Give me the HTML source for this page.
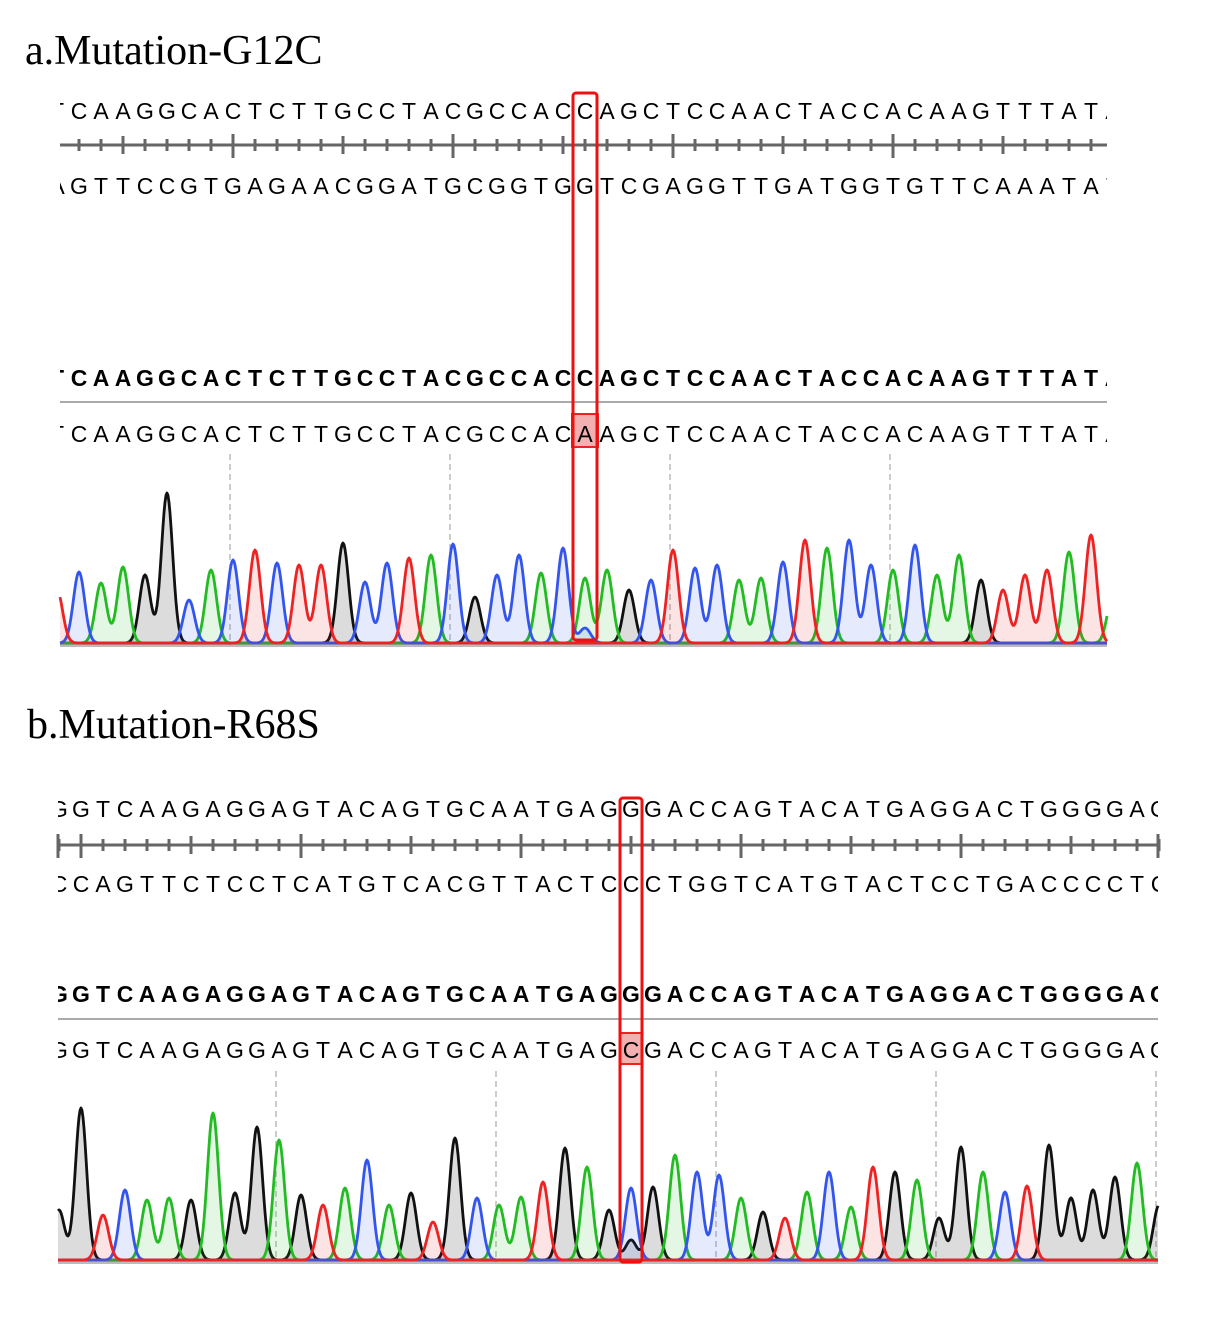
<!DOCTYPE html>
<html><head><meta charset="utf-8"><style>
html,body{margin:0;padding:0;background:#fff;}
svg{display:block;}
</style></head><body>
<svg id="s" width="1207" height="1322" xmlns="http://www.w3.org/2000/svg">
<text x="25" y="64" font-family="Liberation Serif, serif" font-size="42">a.Mutation-G12C</text>
<text x="27" y="738" font-family="Liberation Serif, serif" font-size="42">b.Mutation-R68S</text>
</svg>
<script>
const NS="http://www.w3.org/2000/svg";const S=document.getElementById('s');
function el(t,a,txt){const e=document.createElementNS(NS,t);for(const k in a)e.setAttribute(k,a[k]);if(txt!==undefined)e.textContent=txt;S.appendChild(e);return e;}
const COL={A:'#22bb22',C:'#3355ee',G:'#111111',T:'#ee2222'};
const FILL={A:'rgba(34,187,34,0.12)',C:'rgba(51,85,238,0.12)',G:'rgba(60,60,60,0.18)',T:'rgba(238,34,34,0.12)'};
function panel(P){
  const {x0,xmin,xmax,top,comp,called,yTop,yComp,yRuler,yBold,ySep,yCall,base,heights,dash,box,hl}=P;
  const cid='c'+yTop;
  const cp=el('clipPath',{id:cid});const r=document.createElementNS(NS,'rect');
  r.setAttribute('x',xmin);r.setAttribute('y',0);r.setAttribute('width',xmax-xmin);r.setAttribute('height',1322);cp.appendChild(r);
  const h=document.createElementNS(NS,'rect');for(const k in hl)h.setAttribute(k,hl[k]);
  h.setAttribute('fill','#f3b0b0');h.setAttribute('stroke','#ee2222');h.setAttribute('stroke-width','2');S.appendChild(h);
  const g=el('g',{'clip-path':'url(#'+cid+')'});
  function txt(s,y,bold){for(let i=0;i<s.length;i++){const t=document.createElementNS(NS,'text');
    t.setAttribute('x',x0+22*i);t.setAttribute('y',y);t.setAttribute('text-anchor','middle');
    t.setAttribute('font-family','Liberation Sans, sans-serif');t.setAttribute('font-size','23');
    if(bold)t.setAttribute('font-weight','bold');t.textContent=s[i];g.appendChild(t);}}
  txt(top,yTop);txt(comp,yComp);txt(top,yBold,true);txt(called,yCall);
  el('line',{x1:xmin,x2:xmax,y1:yRuler,y2:yRuler,stroke:'#666','stroke-width':3});
  for(let i=0;i<top.length;i++){const x=x0+22*i;if(x<xmin-1||x>xmax+1)continue;
    const idx=i+P.off;let a=6,b=6;if(idx%10==0){a=11;b=13}else if(idx%5==0){a=9;b=9}
    el('line',{x1:x,x2:x,y1:yRuler-a,y2:yRuler+b,stroke:'#666','stroke-width':3});}
  if(P.endTicks){P.endTicks.forEach(x=>el('line',{x1:x,x2:x,y1:yRuler-11,y2:yRuler+13,stroke:'#666','stroke-width':3}));}
  el('line',{x1:xmin,x2:xmax,y1:ySep,y2:ySep,stroke:'#aaa','stroke-width':2});
  dash.forEach(x=>el('line',{x1:x,x2:x,y1:ySep+52,y2:base,stroke:'#bbb','stroke-width':1.5,'stroke-dasharray':'6,4'}));
  const tr={A:[],C:[],G:[],T:[]};
  for(let i=0;i<heights.length;i++){tr[heights[i][0]].push([x0+22*i,heights[i][1]]);}
  if(P.extra)P.extra.forEach(e=>tr[e[0]].push([x0+22*e[1],e[2]]));
  for(const c of ['G','A','C','T']){const pts=[];
    for(let x=xmin;x<=xmax;x+=1){let y=0;for(const p of tr[c]){y+=p[1]*Math.exp(-((x-p[0])**2)/(2*5.6*5.6));}
      pts.push([x,base-2-y]);}
    const d='M'+xmin+','+base+pts.map(p=>'L'+p[0]+','+p[1].toFixed(1)).join('');
    el('path',{d:d+'L'+xmax+','+base+'Z',fill:FILL[c],stroke:'none'});
    el('path',{d:'M'+pts.map(p=>p[0]+','+p[1].toFixed(1)).join('L'),fill:'none',stroke:COL[c],'stroke-width':2.8,'stroke-linejoin':'round'});}
  el('line',{x1:xmin,x2:xmax,y1:base+1,y2:base+1,stroke:'#bbb','stroke-width':2});
  el('rect',{x:box[0],y:box[1],width:box[2],height:box[3],rx:3,fill:'none',stroke:'#ee1111','stroke-width':3});
}
function H(seq,tops,base){return seq.split('').map((c,i)=>[c,base-2-tops[i]]);}
const topA='TCAAGGCACTCTTGCCTACGCCACCAGCTCCAACTACCACAAGTTTATA';
const compA='AGTTCCGTGAGAACGGATGCGGTGGTCGAGGTTGATGGTGTTCAAATAT';
const callA='TCAAGGCACTCTTGCCTACGCCACAAGCTCCAACTACCACAAGTTTATA';
const tA=[590,572,583,567,575,493,600,570,560,550,563,565,565,543,582,563,558,555,544,597,575,555,573,548,578,570,590,580,550,568,565,580,578,562,540,548,540,565,570,545,575,555,580,590,575,570,552,535,595];
panel({x0:57,xmin:60,xmax:1107,off:-8,top:topA,comp:compA,called:callA,yTop:119,yComp:194,yRuler:145,yBold:386,ySep:402,yCall:442,base:645,
 heights:H(callA,tA,645),dash:[230,450,670,890],box:[573,93,24,547],hl:{x:572,y:414,width:26,height:33},extra:[['C',24,15]]});
const topB='GGTCAAGAGGAGTACAGTGCAATGAGGGACCAGTACATGAGGACTGGGGAG';
const compB='CCAGTTCTCCTCATGTCACGTTACTCCCTGGTCATGTACTCCTGACCCCTC';
const callB='GGTCAAGAGGAGTACAGTGCAATGAGCGACCAGTACATGAGGACTGGGGAG';
const tB=[1210,1108,1215,1190,1200,1198,1200,1113,1193,1127,1140,1195,1205,1188,1160,1205,1193,1222,1138,1198,1205,1197,1182,1148,1167,1210,1188,1187,1155,1172,1175,1198,1212,1218,1192,1172,1207,1167,1172,1180,1218,1147,1172,1192,1186,1145,1198,1190,1177,1163,1205];
panel({x0:59,xmin:58,xmax:1158,off:-1,top:topB,comp:compB,called:callB,yTop:817,yComp:892,yRuler:845,yBold:1002,ySep:1019,yCall:1058,base:1262,
 heights:H(callB,tB,1262),dash:[276,496,716,936,1156],box:[620,798,22,464],hl:{x:620,y:1033,width:22,height:31},endTicks:[58,1158],extra:[['G',26,20]]});
</script>
</body></html>
